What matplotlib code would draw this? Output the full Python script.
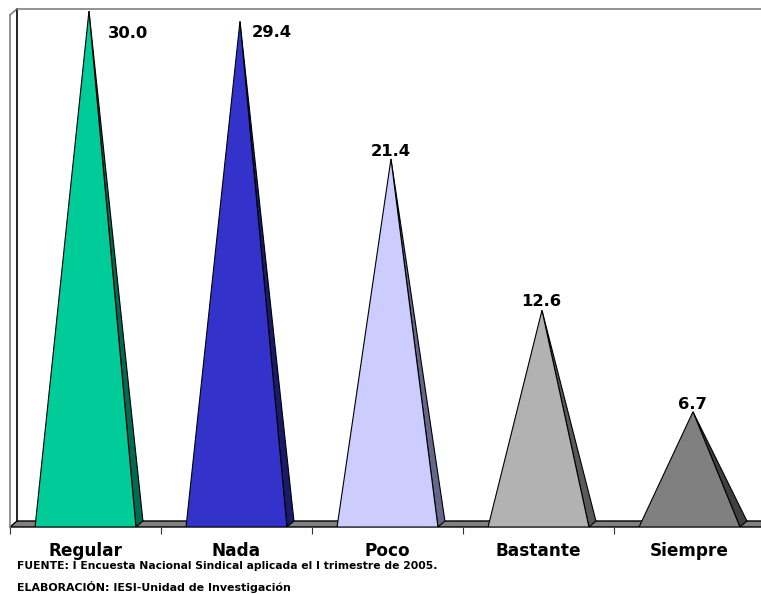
import numpy as np
import matplotlib
matplotlib.use("Agg")
import matplotlib.pyplot as plt
from matplotlib.patches import Polygon

plt.rcParams["font.family"] = ["DejaVu Sans"]

categories = ["Regular", "Nada", "Poco", "Bastante", "Siempre"]
values = [30.0, 29.4, 21.4, 12.6, 6.7]
face_colors = ["#00CC99", "#3333CC", "#CCCCFF", "#B2B2B2", "#808080"]
side_colors = ["#006B50", "#1A1A6B", "#66668A", "#595959", "#404040"]
label_offsets = [(39, -30), (32, -19), (0, 0), (-1, 1), (-1, 0)]

W, H = 761, 594
fig = plt.figure(figsize=(W / 100, H / 100), dpi=100)
# axes run a bit past the right edge of the figure, like the original
ax = fig.add_axes([10 / W, (H - 527) / H, 755 / W, 516 / H])
ax.set_xlim(-0.5, 4.5)
ax.set_ylim(0, 30)
ax.patch.set_visible(False)
for s in ax.spines.values():
    s.set_visible(False)

dx = 7 / 151
dy = 6 / 17.2
half = 0.334
lean = 0.023
top = 30.12
x0, x1 = -0.5, 4.5

#
# floor and wall
#
ax.add_patch(Polygon([(x0, 0), (x1, 0), (x1 + dx, dy), (x0 + dx, dy)], fc="#808080", ec="black", lw=1, clip_on=False, zorder=1))
ax.plot([x0, x0], [0, top - dy], color="#808080", lw=1.2, clip_on=False, zorder=1)
ax.plot([x0, x0 + dx], [top - dy, top], color="#808080", lw=1.2, clip_on=False, zorder=1)
ax.plot([x0 + dx, x0 + dx], [dy, top], color="black", lw=1.2, clip_on=False, zorder=1)
ax.plot([x0 + dx, x1], [top, top], color="#808080", lw=1.2, clip_on=False, zorder=1)

#
# pyramids
#
for i, v in enumerate(values):
    apex = (i + lean, v)
    ax.add_patch(Polygon([(i + half, 0), (i + half + dx, dy), apex], fc=side_colors[i], ec="black", lw=0.8, zorder=2))
    ax.add_patch(Polygon([(i - half, 0), (i + half, 0), apex], fc=face_colors[i], ec="black", lw=0.8, zorder=3))
    ax.annotate(f"{v:.1f}", apex, xytext=label_offsets[i], textcoords="offset pixels",
                ha="center", va="bottom", fontsize=11.8, fontweight="bold", zorder=4, annotation_clip=False)

ax.set_yticks([])
ax.set_xticks(np.arange(len(categories)))
ax.set_xticklabels(categories, fontsize=12.2, fontweight="bold")
ax.set_xticks(np.arange(len(categories) + 1) - 0.5, minor=True)
ax.tick_params(axis="x", which="major", length=0, pad=10.5)
ax.tick_params(axis="x", which="minor", length=5, width=0.8, color="#333333")

fig.text(17 / W, (H - 566) / H, "FUENTE: I Encuesta Nacional Sindical aplicada el I trimestre de 2005.",
         fontsize=7.75, fontweight="bold", va="center")
fig.text(17 / W, (H - 587) / H, "ELABORACIÓN: IESI-Unidad de Investigación",
         fontsize=7.9, fontweight="bold", va="center")

fig.savefig("out.png", dpi=100)
